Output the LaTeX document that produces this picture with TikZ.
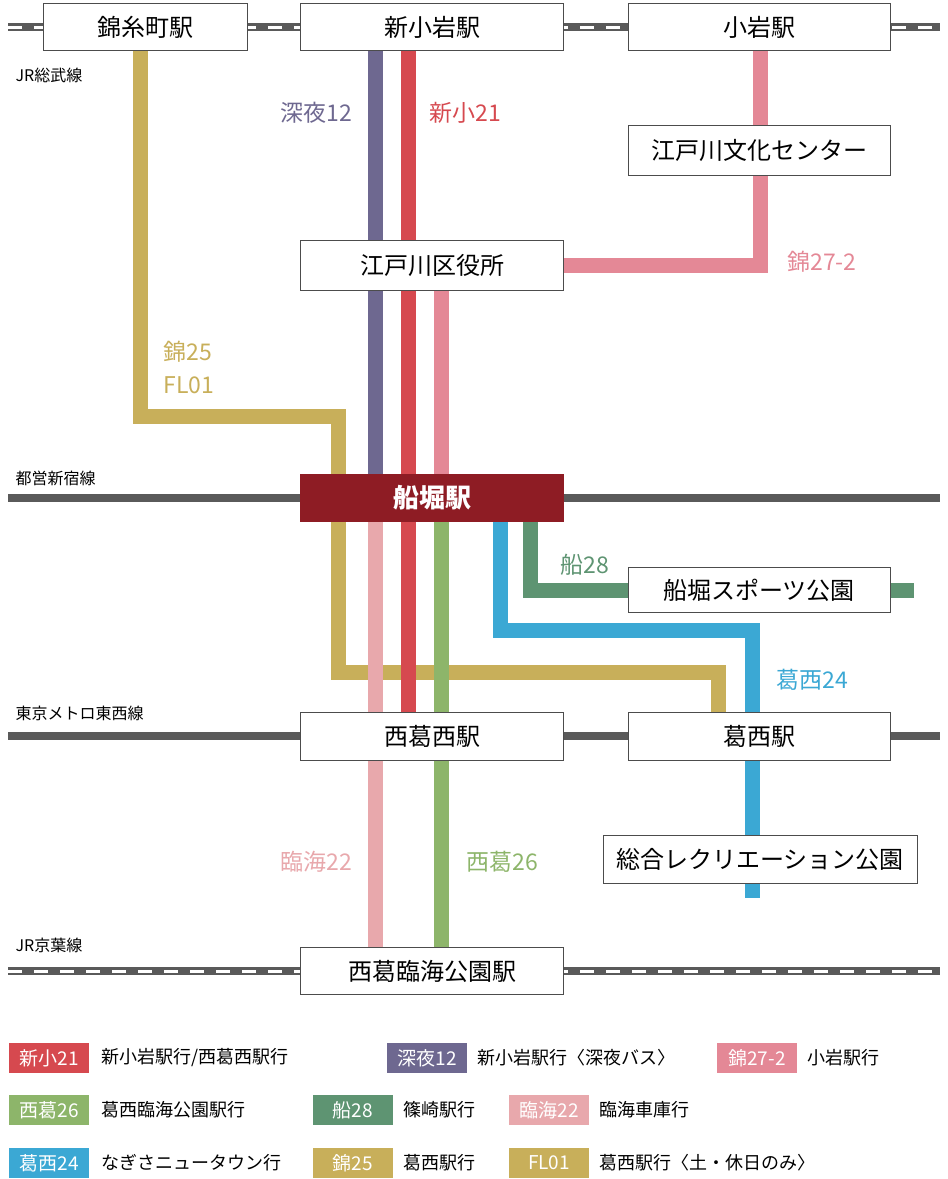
\documentclass[tikz,border=0pt]{standalone}
\usepackage{fontspec}
\setmainfont{Noto Sans CJK JP}
\definecolor{cgold}{HTML}{C8AF5A}
\definecolor{cpurp}{HTML}{6E6890}
\definecolor{cred}{HTML}{D6494F}
\definecolor{cpink}{HTML}{E48896}
\definecolor{clpink}{HTML}{E8A8AC}
\definecolor{cgreen}{HTML}{8DB56A}
\definecolor{cdgreen}{HTML}{5E9472}
\definecolor{cblue}{HTML}{3BA8D4}
\definecolor{crail}{HTML}{5A5A5A}
\definecolor{cfuna}{HTML}{8E1C24}
\tikzset{
 stbox/.style={draw=black!70,line width=1pt,fill=white,minimum height=47pt,inner sep=0pt,font=\fontsize{24}{24}\selectfont},
 route/.style={line width=15pt},
 rail/.style={crail,line width=8pt},
 jrdash/.style={white,line width=3pt,dash pattern=on 14pt off 12pt},
 rlabel/.style={font=\fontsize{23}{23}\selectfont,anchor=center},
 linelabel/.style={font=\fontsize{16}{16}\selectfont,anchor=west},
 badge/.style={text=white,minimum height=30pt,minimum width=80pt,inner sep=0pt,font=\fontsize{19}{19}\selectfont},
 legtxt/.style={font=\fontsize{18}{18}\selectfont,anchor=west}
}
\begin{document}
\begin{tikzpicture}[x=1pt,y=-1pt]
\useasboundingbox (0,0) rectangle (948,1179);
% rails
\draw[rail] (8,27) -- (940,27); \draw[jrdash] (8,27) -- (940,27);
\draw[rail] (8,498) -- (940,498);
\draw[rail] (8,736) -- (940,736);
\draw[rail] (8,971) -- (940,971); \draw[jrdash] (8,971) -- (940,971);
\node[linelabel] (l1) at (12,75) {JR総武線};
\node[linelabel] (l2) at (12,478) {都営新宿線};
\node[linelabel] (l3) at (12,713) {東京メトロ東西線};
\node[linelabel] (l4) at (12,945) {JR京葉線};
% routes
\draw[route,cgold] (140,40) -- (140,416) -- (338,416) -- (338,672) -- (718,672) -- (718,720);
\draw[route,cpurp] (375,40) -- (375,480);
\draw[route,cred] (408,40) -- (408,720);
\draw[route,cpink] (760,40) -- (760,140);
\draw[route,cpink] (760,160) -- (760,265) -- (550,265);
\draw[route,cpink] (441,280) -- (441,480);
\draw[route,clpink] (375,515) -- (375,955);
\draw[route,cgreen] (441,515) -- (441,955);
\draw[route,cdgreen] (530,515) -- (530,590) -- (640,590);
\draw[route,cdgreen] (880,590) -- (914,590);
\draw[route,cblue] (500,515) -- (500,630) -- (752,630) -- (752,898);
% stations
\node[stbox,minimum width=204pt] (kinshi) at (145,27) {錦糸町駅};
\node[stbox,minimum width=263pt] (shinkoiwa) at (432,27) {新小岩駅};
\node[stbox,minimum width=262pt] (koiwa) at (759,27) {小岩駅};
\node[stbox,minimum width=262pt,minimum height=50pt] (bunka) at (759,150) {江戸川文化センター};
\node[stbox,minimum width=263pt,minimum height=50pt] (kuyaku) at (432,265) {江戸川区役所};
\node[stbox,minimum width=263pt,fill=cfuna,draw=cfuna,text=white,font=\fontsize{26}{26}\selectfont\bfseries] (funabori) at (432,498) {船堀駅};
\node[stbox,minimum width=262pt,minimum height=45pt] (sports) at (759,590) {船堀スポーツ公園};
\node[stbox,minimum width=263pt,minimum height=48pt] (nishikasai) at (432,736) {西葛西駅};
\node[stbox,minimum width=262pt,minimum height=48pt] (kasai) at (759,736) {葛西駅};
\node[stbox,minimum width=314pt,minimum height=48pt] (sogo) at (760,859) {総合レクリエーション公園};
\node[stbox,minimum width=263pt] (rinkai) at (432,971) {西葛臨海公園駅};
% route labels
\node[rlabel,cpurp] (t1) at (316,113) {深夜12};
\node[rlabel,cred] (t2) at (465,113) {新小21};
\node[rlabel,cpink] (t3) at (822,262) {錦27-2};
\node[rlabel,cgold,anchor=west] (t4) at (160,352) {錦25};
\node[rlabel,cgold,anchor=west] (t5) at (160,385) {FL01};
\node[rlabel,cdgreen] (t6) at (585,565) {船28};
\node[rlabel,cblue] (t7) at (812,680) {葛西24};
\node[rlabel,clpink] (t8) at (316,862) {臨海22};
\node[rlabel,cgreen] (t9) at (502,862) {西葛26};
% legend
\node[badge,fill=cred] (b1) at (49,1058) {新小21};
\node[legtxt] (x1) at (98,1058) {新小岩駅行/西葛西駅行};
\node[badge,fill=cpurp] (b2) at (427,1058) {深夜12};
\node[legtxt] (x2) at (474,1058) {新小岩駅行〈深夜バス〉};
\node[badge,fill=cpink] (b3) at (757,1058) {錦27-2};
\node[legtxt] (x3) at (804,1058) {小岩駅行};
\node[badge,fill=cgreen] (b4) at (49,1110) {西葛26};
\node[legtxt] (x4) at (98,1110) {葛西臨海公園駅行};
\node[badge,fill=cdgreen] (b5) at (353,1110) {船28};
\node[legtxt] (x5) at (400,1110) {篠崎駅行};
\node[badge,fill=clpink] (b6) at (549,1110) {臨海22};
\node[legtxt] (x6) at (596,1110) {臨海車庫行};
\node[badge,fill=cblue] (b7) at (49,1163) {葛西24};
\node[legtxt] (x7) at (98,1163) {なぎさニュータウン行};
\node[badge,fill=cgold] (b8) at (353,1163) {錦25};
\node[legtxt] (x8) at (400,1163) {葛西駅行};
\node[badge,fill=cgold] (b9) at (549,1163) {FL01};
\node[legtxt] (x9) at (596,1163) {葛西駅行〈土・休日のみ〉};
\end{tikzpicture}
\end{document}
